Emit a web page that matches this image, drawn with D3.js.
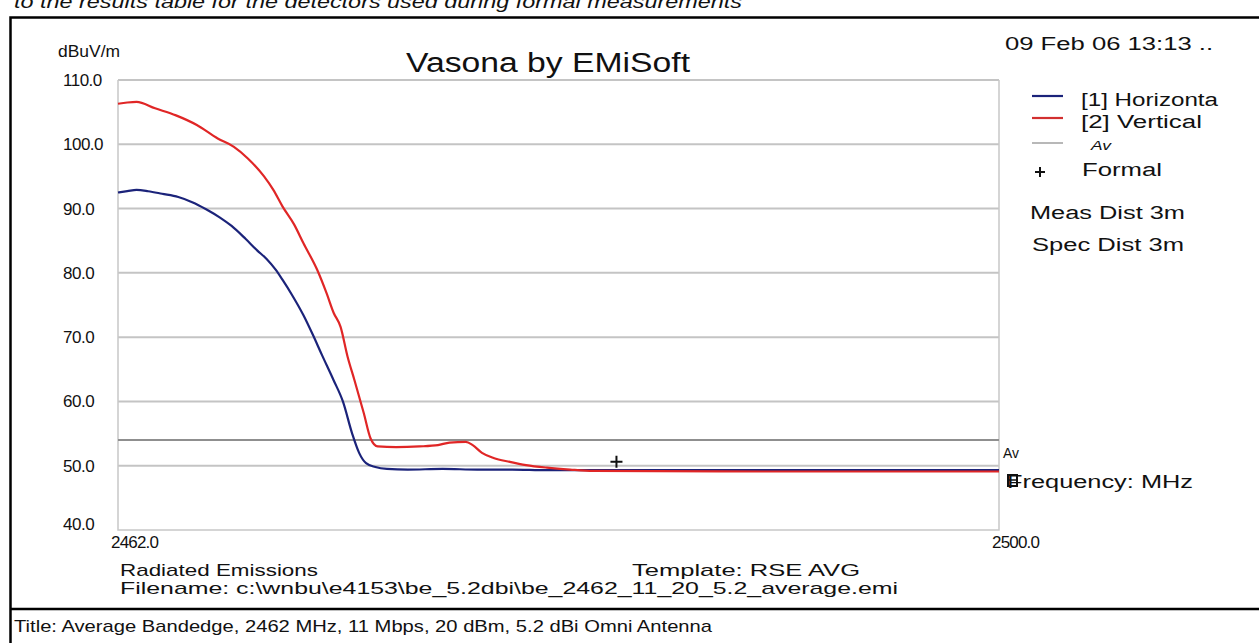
<!DOCTYPE html>
<html>
<head>
<meta charset="utf-8">
<script src="https://cdn.jsdelivr.net/npm/d3@7"></script>
<style>
  body { margin: 0; background: #fff; }
  text { font-family: "Liberation Sans", Arial, sans-serif; fill: #111; }
</style>
</head>
<body>
<div id="chart"></div>
<script>
// frequency range (MHz) and level ticks (dBuV/m)
const freqRange = [2462, 2500];
const levelTicks = [40, 50, 60, 70, 80, 90, 100, 110];
const freqTickLabels = ["2462.0", "2500.0"];

// [1] Horizontal trace
const horizFreq = [2462.0, 2462.4, 2462.8, 2463.3, 2463.9, 2464.6, 2465.2, 2465.8, 2466.4, 2466.9,
                   2467.5, 2468.0, 2468.4, 2468.8, 2469.1, 2469.5, 2470.0, 2470.4, 2470.8, 2471.3,
                   2471.7, 2472.1, 2472.4, 2472.7, 2473.1, 2473.6, 2474.5, 2476.0, 2477.5, 2479.0,
                   2480.5, 2482.0, 2490.0, 2500.0];
const horizLevel = [92.5, 92.7, 92.9, 92.7, 92.3, 91.8, 91.0, 89.9, 88.6, 87.3,
                    85.3, 83.5, 82.2, 80.5, 78.9, 76.6, 73.4, 70.4, 67.2, 63.3,
                    60.0, 55.0, 52.0, 50.4, 49.8, 49.5, 49.4, 49.5, 49.4, 49.4,
                    49.3, 49.3, 49.3, 49.3];

// [2] Vertical trace
const vertFreq = [2462.0, 2462.4, 2462.8, 2463.6, 2464.5, 2465.4, 2466.3, 2467.0, 2467.6, 2468.3,
                  2468.7, 2469.1, 2469.6, 2470.0, 2470.6, 2471.0, 2471.3, 2471.6, 2471.9, 2472.2,
                  2472.6, 2472.9, 2473.2, 2474.0, 2475.0, 2475.8, 2476.3, 2477.0, 2477.3, 2477.7,
                  2478.2, 2478.9, 2479.6, 2480.5, 2481.5, 2482.5, 2490.0, 2500.0];
const vertLevel = [106.3, 106.5, 106.6, 105.6, 104.5, 103.0, 100.9, 99.6, 97.8, 95.0,
                   92.9, 90.3, 87.5, 84.6, 80.4, 76.8, 73.8, 71.6, 67.0, 63.3,
                   58.2, 54.2, 53.0, 52.9, 53.0, 53.2, 53.6, 53.7, 53.2, 52.0,
                   51.2, 50.6, 50.1, 49.7, 49.4, 49.2, 49.1, 49.1];

const avLimit = 54.0;
const formalPoints = [[2483.5, 50.6]];

const legendLabels = ["[1] Horizonta", "[2] Vertical", "Av", "Formal"];

let svg = d3.select("#chart")
            .append("svg")
            .attr("width", 1259)
            .attr("height", 643)

let xScale = d3.scaleLinear()
               .domain(freqRange)
               .range([118, 999])
let yScale = d3.scaleLinear()
               .domain([levelTicks[0], levelTicks[levelTicks.length - 1]])
               .range([530, 80])

// caption cut off at the top of the page
svg.append("text")
   .attr("x", 14)
   .attr("y", 8)
   .attr("textLength", 728)
   .attr("lengthAdjust", "spacingAndGlyphs")
   .style("font-size", "18px")
   .style("font-style", "italic")
   .text("to the results table for the detectors used during formal measurements")

// outer frame
svg.append("rect")
   .attr("x", 10.5)
   .attr("y", 17.5)
   .attr("width", 1260)
   .attr("height", 640)
   .attr("fill", "none")
   .attr("stroke", "#000")
   .attr("stroke-width", 2.5)
svg.append("line")
   .attr("x1", 10).attr("x2", 1259)
   .attr("y1", 609).attr("y2", 609)
   .attr("stroke", "#000")
   .attr("stroke-width", 2.5)

// grid
svg.selectAll(".grid")
   .data(levelTicks.slice(1))
   .enter()
   .append("line")
   .classed("grid", true)
   .attr("x1", xScale(freqRange[0]))
   .attr("x2", xScale(freqRange[1]))
   .attr("y1", d => yScale(d))
   .attr("y2", d => yScale(d))
   .attr("stroke", "#c4c4c4")
   .attr("stroke-width", 2)

// plot frame (left, bottom, right)
let x0 = xScale(freqRange[0]), x1 = xScale(freqRange[1]);
let yb = yScale(levelTicks[0]), yt = yScale(levelTicks[levelTicks.length - 1]);
svg.append("path")
   .attr("d", `M${x0},${yt}V${yb}H${x1}V${yt}`)
   .attr("fill", "none")
   .attr("stroke", "#c8c8c8")
   .attr("stroke-width", 1.5)

// Av limit
svg.append("line")
   .attr("x1", x0).attr("x2", x1)
   .attr("y1", yScale(avLimit)).attr("y2", yScale(avLimit))
   .attr("stroke", "#8f8f8f")
   .attr("stroke-width", 2)

// traces
let line = d3.line()
             .x(d => xScale(d[0]))
             .y(d => yScale(d[1]))
             .curve(d3.curveMonotoneX)

svg.append("path")
   .datum(horizFreq.map((f, i) => [f, horizLevel[i]]))
   .attr("d", line)
   .attr("fill", "none")
   .attr("stroke", "#1b237a")
   .attr("stroke-width", 2.2)
svg.append("path")
   .datum(vertFreq.map((f, i) => [f, vertLevel[i]]))
   .attr("d", line)
   .attr("fill", "none")
   .attr("stroke", "#e02626")
   .attr("stroke-width", 2.2)

// formal measurement marker
svg.selectAll(".formal")
   .data(formalPoints)
   .enter()
   .append("path")
   .classed("formal", true)
   .attr("d", d => `M${xScale(d[0]) - 6},${yScale(d[1])}h12M${xScale(d[0])},${yScale(d[1]) - 6}v12`)
   .attr("stroke", "#111")
   .attr("stroke-width", 2)

// level tick labels
svg.selectAll(".ylab")
   .data(levelTicks)
   .enter()
   .append("text")
   .classed("ylab", true)
   .attr("x", 63)
   .attr("y", (d, i) => i == 0 ? yScale(d) : yScale(d) + 6)
   .style("font-size", "17px")
   .style("letter-spacing", "-0.5px")
   .text(d => d3.format(".1f")(d))

// frequency tick labels
svg.selectAll(".xlab")
   .data(freqTickLabels)
   .enter()
   .append("text")
   .classed("xlab", true)
   .attr("x", d => xScale(+d) - 7)
   .attr("y", 548)
   .style("font-size", "17px")
   .style("letter-spacing", "-0.8px")
   .text(d => d)

svg.append("text")
   .attr("x", 58).attr("y", 57)
   .attr("textLength", 62)
   .attr("lengthAdjust", "spacingAndGlyphs")
   .style("font-size", "16px")
   .text("dBuV/m")

svg.append("text")
   .attr("x", 406).attr("y", 72)
   .attr("textLength", 284)
   .attr("lengthAdjust", "spacingAndGlyphs")
   .style("font-size", "27px")
   .text("Vasona by EMiSoft")

svg.append("text")
   .attr("x", 1005).attr("y", 50)
   .attr("textLength", 208)
   .attr("lengthAdjust", "spacingAndGlyphs")
   .style("font-size", "18px")
   .text("09 Feb 06 13:13 ..")

// legend
let legendY = [96, 118, 143];
let legendColors = ["#1b237a", "#d23030", "#a0a0a0"];
svg.selectAll(".legline")
   .data(legendY)
   .enter()
   .append("line")
   .classed("legline", true)
   .attr("x1", 1032).attr("x2", 1063)
   .attr("y1", d => d).attr("y2", d => d)
   .attr("stroke", (d, i) => legendColors[i])
   .attr("stroke-width", (d, i) => i == 2 ? 1.5 : 2.2)

svg.append("path")
   .attr("d", "M1035,172h10M1040,167v10")
   .attr("stroke", "#111")
   .attr("stroke-width", 2)

let legendPos = [[1081, 106, 137, 18], [1081, 128, 121, 18], [1091, 150, 20, 12], [1082, 176, 80, 18]];
svg.selectAll(".legtext")
   .data(legendLabels)
   .enter()
   .append("text")
   .classed("legtext", true)
   .attr("x", (d, i) => legendPos[i][0])
   .attr("y", (d, i) => legendPos[i][1])
   .attr("textLength", (d, i) => legendPos[i][2])
   .attr("lengthAdjust", "spacingAndGlyphs")
   .style("font-size", (d, i) => legendPos[i][3] + "px")
   .style("font-style", (d, i) => i == 2 ? "italic" : "normal")
   .text(d => d)

svg.append("text")
   .attr("x", 1030).attr("y", 219)
   .attr("textLength", 155)
   .attr("lengthAdjust", "spacingAndGlyphs")
   .style("font-size", "18px")
   .text("Meas Dist 3m")
svg.append("text")
   .attr("x", 1032).attr("y", 251)
   .attr("textLength", 152)
   .attr("lengthAdjust", "spacingAndGlyphs")
   .style("font-size", "18px")
   .text("Spec Dist 3m")

// labels at right edge of the plot
svg.append("text")
   .attr("x", 1003).attr("y", 458)
   .attr("textLength", 16)
   .attr("lengthAdjust", "spacingAndGlyphs")
   .style("font-size", "14px")
   .text("Av")
svg.append("rect")
   .attr("x", 1008).attr("y", 475)
   .attr("width", 9).attr("height", 11)
   .attr("fill", "none")
   .attr("stroke", "#111")
   .attr("stroke-width", 2)
svg.append("line")
   .attr("x1", 1008).attr("x2", 1017)
   .attr("y1", 480).attr("y2", 480)
   .attr("stroke", "#111")
   .attr("stroke-width", 1.5)
svg.append("text")
   .attr("x", 1007).attr("y", 488)
   .attr("textLength", 186)
   .attr("lengthAdjust", "spacingAndGlyphs")
   .style("font-size", "18px")
   .text("Frequency: MHz")

// footer texts
svg.append("text")
   .attr("x", 120).attr("y", 576)
   .attr("textLength", 198)
   .attr("lengthAdjust", "spacingAndGlyphs")
   .style("font-size", "17px")
   .text("Radiated Emissions")
svg.append("text")
   .attr("x", 632).attr("y", 576)
   .attr("textLength", 228)
   .attr("lengthAdjust", "spacingAndGlyphs")
   .style("font-size", "17px")
   .text("Template: RSE AVG")
svg.append("text")
   .attr("x", 120).attr("y", 594)
   .attr("textLength", 778)
   .attr("lengthAdjust", "spacingAndGlyphs")
   .style("font-size", "17px")
   .text("Filename: c:\\wnbu\\e4153\\be_5.2dbi\\be_2462_11_20_5.2_average.emi")

svg.append("text")
   .attr("x", 14).attr("y", 632)
   .attr("textLength", 698)
   .attr("lengthAdjust", "spacingAndGlyphs")
   .style("font-size", "17px")
   .text("Title: Average Bandedge, 2462 MHz, 11 Mbps, 20 dBm, 5.2 dBi Omni Antenna")
</script>
</body>
</html>
